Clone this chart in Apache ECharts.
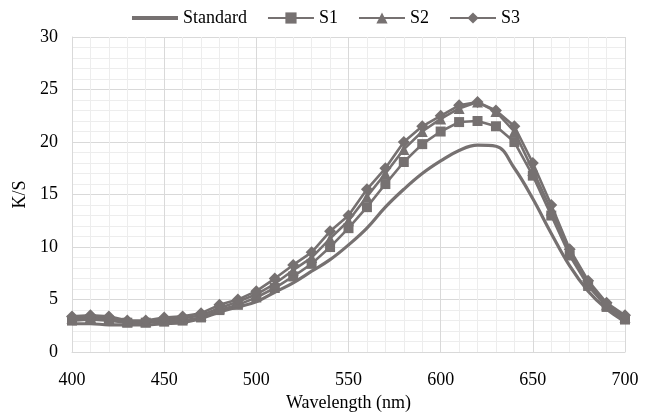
<!DOCTYPE html>
<html>
<head>
<meta charset="utf-8">
<script src="https://cdn.jsdelivr.net/npm/echarts@6/dist/echarts.min.js"></script>
<style>
  html, body { margin: 0; padding: 0; background: #fff; }
  #chart { width: 650px; height: 417px; }
</style>
</head>
<body>
<div id="chart"></div>
<script>
// wavelength (nm)
var wavelengths = [400, 410, 420, 430, 440, 450, 460, 470, 480, 490, 500, 510, 520, 530, 540, 550,
    560, 570, 580, 590, 600, 610, 620, 630, 640, 650, 660, 670, 680, 690, 700];

var standard = [2.7, 2.7, 2.6, 2.6, 2.6, 2.7, 2.8, 3.2, 3.8, 4.3, 4.8, 5.7, 6.6, 7.7, 8.8, 10.2,
    11.8, 13.8, 15.5, 17.0, 18.2, 19.2, 19.7, 19.6, 17.5, 14.6, 11.3, 8.2, 5.8, 4.1, 2.9];
var s1 = [3.0, 3.1, 3.0, 2.8, 2.8, 2.9, 3.0, 3.3, 4.0, 4.5, 5.2, 6.1, 7.2, 8.4, 10.0, 11.8,
    13.8, 16.0, 18.1, 19.8, 21.0, 21.9, 22.0, 21.5, 20.0, 16.8, 13.0, 9.2, 6.3, 4.3, 3.1];
var s2 = [3.2, 3.3, 3.2, 2.9, 2.9, 3.1, 3.2, 3.5, 4.2, 4.8, 5.5, 6.5, 7.8, 9.0, 10.8, 12.5,
    14.8, 17.0, 19.3, 21.0, 22.2, 23.2, 23.8, 22.9, 21.0, 17.3, 13.5, 9.5, 6.6, 4.5, 3.3];
var s3 = [3.4, 3.5, 3.4, 3.0, 3.0, 3.3, 3.4, 3.7, 4.5, 5.0, 5.8, 7.0, 8.3, 9.5, 11.5, 13.0,
    15.5, 17.5, 20.0, 21.5, 22.5, 23.5, 23.8, 23.0, 21.5, 18.0, 14.0, 9.8, 6.8, 4.7, 3.5];

var grey = "#767171";
var font = "Liberation Serif";

function pairs(ys) {
    return ys.map(function (v, i) { return [wavelengths[i], v]; });
}

function markerSeries(name, ys, symbol, size) {
    return {
        name: name,
        type: "line",
        data: pairs(ys),
        symbol: symbol,
        symbolSize: size,
        showSymbol: true,
        lineStyle: { color: grey, width: 2.6 },
        itemStyle: { color: grey },
        z: 3
    };
}

var chart = echarts.init(document.getElementById("chart"));
chart.setOption({
    animation: false,
    textStyle: { fontFamily: font },
    legend: {
        top: 4,
        left: "center",
        itemWidth: 46,
        itemHeight: 14,
        itemGap: 20,
        textStyle: { fontFamily: font, fontSize: 18, color: "#000" },
        data: [
            { name: "Standard", itemStyle: { color: "rgba(0,0,0,0)", borderWidth: 0 }, lineStyle: { width: 4 } },
            "S1", "S2", "S3"
        ]
    },
    grid: { left: 72, right: 25, top: 37, bottom: 64 },
    xAxis: {
        type: "value",
        min: 400,
        max: 700,
        interval: 50,
        name: "Wavelength (nm)",
        nameLocation: "middle",
        nameGap: 37,
        nameTextStyle: { fontFamily: font, fontSize: 18, color: "#000" },
        axisLine: { show: true, lineStyle: { color: "#d9d9d9" } },
        axisTick: { show: false },
        axisLabel: { fontFamily: font, fontSize: 18, color: "#000", margin: 19 },
        splitLine: { show: true, lineStyle: { color: "#d9d9d9" } },
        minorTick: { show: false, splitNumber: 5 },
        minorSplitLine: { show: true, lineStyle: { color: "#ededed" } }
    },
    yAxis: {
        type: "value",
        min: 0,
        max: 30,
        interval: 5,
        name: "K/S",
        nameLocation: "middle",
        nameGap: 42,
        nameTextStyle: { fontFamily: font, fontSize: 18, color: "#000" },
        axisLine: { show: true, lineStyle: { color: "#d9d9d9" } },
        axisTick: { show: false },
        axisLabel: { fontFamily: font, fontSize: 18, color: "#000", margin: 14 },
        splitLine: { show: true, lineStyle: { color: "#d9d9d9" } },
        minorTick: { show: false, splitNumber: 5 },
        minorSplitLine: { show: true, lineStyle: { color: "#ededed" } }
    },
    series: [
        {
            name: "Standard",
            type: "line",
            data: pairs(standard),
            smooth: 0.4,
            symbol: "none",
            lineStyle: { color: grey, width: 3.2 },
            itemStyle: { color: grey },
            z: 2
        },
        markerSeries("S1", s1, "rect", 10),
        markerSeries("S2", s2, "triangle", 11),
        markerSeries("S3", s3, "diamond", 12)
    ]
});
</script>
</body>
</html>
